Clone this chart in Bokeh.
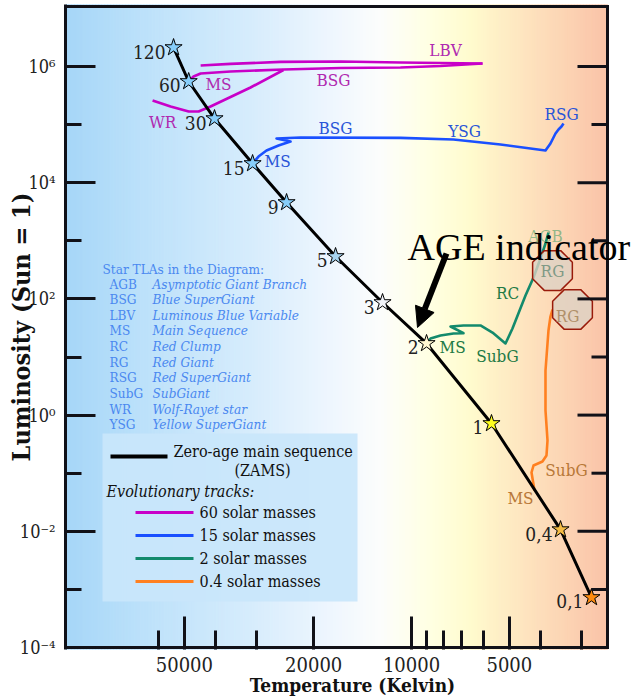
import math
import numpy as np
from bokeh.plotting import figure
from bokeh.models import (Range1d, FixedTicker, CustomJSTickFormatter,
                          Label, Arrow, NormalHead)
from bokeh.core.properties import value
from bokeh.embed import file_html
from bokeh.resources import INLINE

# ---------------- data ----------------
# ZAMS stars: mass label, temperature (K), luminosity (Sun = 1)
star_mass = ["120", "60", "30", "15", "9", "5", "3", "2", "1", "0,4", "0,1"]
star_T = [53990, 48500, 40390, 30840, 24240, 17130, 12280, 8990, 5674, 3479, 2794]
star_L = [2.12e6, 5.52e5, 1.27e5, 2.14e4, 4560, 537, 86.7, 17.1, 0.717, 0.0107, 7.26e-4]
star_color = ["#87cefa", "#87cefa", "#87cefa", "#87cefa", "#87cefa", "#a6d3f0",
              "#f2f4fa", "#fff8d2", "#ffff20", "#f4bb44", "#ff8c10"]

# 60 solar masses track (three pieces)
t60_ms_T = [48500, 46860, 44560, 36060, 24780, 16520, 10810, 8144, 6046]
t60_ms_L = [5.52e5, 6.73e5, 7.58e5, 8.2e5, 8.88e5, 9.42e5, 9.61e5, 1.02e6, 1.127e6]
t60_back_T = [6046, 8144, 10810, 16520, 25300, 36060, 44560]
t60_back_L = [1.127e6, 1.15e6, 1.17e6, 1.22e6, 1.20e6, 1.11e6, 1.04e6]
t60_wr_T = [24780, 31290, 41540, 45220, 48500, 55140, 62640]
t60_wr_L = [8.71e5, 4.35e5, 2.05e5, 1.68e5, 1.68e5, 2.05e5, 2.6e5]
t60_lab = ["MS", "BSG", "LBV", "WR"]
t60_lab_T = [39260, 17380, 7862, 58370]
t60_lab_L = [4.9e5, 5.97e5, 1.886e6, 1.087e5]

# 15 solar masses track
t15_T = [30840, 29570, 27940, 25660, 23570, 26030, 21960, 10810, 7428, 5324,
         3870, 3736, 3605, 3529, 3455, 3406]
t15_L = [2.14e4, 2.82e4, 3.58e4, 4.37e4, 5.12e4, 5.77e4, 6.0e4, 5.9e4, 5.54e4,
         4.54e4, 3.58e4, 4.73e4, 7.03e4, 8.24e4, 9.27e4, 1.045e5]
t15_lab = ["MS", "BSG", "YSG", "RSG"]
t15_lab_T = [25840, 17130, 6869, 3455]
t15_lab_L = [2.32e4, 8.57e4, 7.91e4, 1.55e5]

# 2 solar masses track
t2_T = [8990, 8740, 8144, 7428, 6918, 7586, 6918, 6135, 5634, 5138, 4890, 4459,
        4213, 4010, 3870, 3789]
t2_L = [17.1, 20.8, 23.4, 25.4, 25.7, 33.5, 34.9, 34.9, 26.4, 17.1, 30.9, 114.4,
        233, 496, 899, 1390]
t2_lab = ["MS", "SubG", "RC"]
t2_lab_T = [7477, 5439, 5066]
t2_lab_L = [14.6, 10.6, 123.9]
agb_T = [3870]
agb_L = [1233]

# 0.4 solar masses track
t04_T = [4183, 4273, 4213, 3954, 3843, 3815, 3870, 3870, 3789, 3736, 3683]
t04_L = [0.0504, 0.1028, 0.1357, 0.159, 0.2017, 0.365, 1.20, 5.86, 28.6, 49.8, 65.7]
t04_lab = ["MS", "SubG"]
t04_lab_T = [4619, 3335]
t04_lab_L = [0.0367, 0.1113]

# red giant markers
rg_T = [3683, 3196]
rg_L = [308, 65.7]
rg_text_T = [3683, 3311]
rg_text_L = [308, 49.8]

# axis ticks
x_major = [50000, 20000, 10000, 5000]
x_minor = [60000, 40000, 30000, 9000, 8000, 7000, 6000, 4000, 3000]
y_major = [1e-4, 1e-2, 1, 1e2, 1e4, 1e6]
y_minor = [1e-3, 1e-1, 10, 1e3, 1e5]

tla_abbr = ["AGB", "BSG", "LBV", "MS", "RC", "RG", "RSG", "SubG", "WR", "YSG"]
tla_name = ["Asymptotic Giant Branch", "Blue SuperGiant", "Luminous Blue Variable",
            "Main Sequence", "Red Clump", "Red Giant", "Red SuperGiant", "SubGiant",
            "Wolf-Rayet star", "Yellow SuperGiant"]
legend_names = ["60 solar masses", "15 solar masses", "2 solar masses", "0.4 solar masses"]

# ---------------- styling / layout ----------------
SERIF = "DejaVu Serif Condensed"
C60, C15, C2, C04 = "#c800c8", "#1a50ff", "#138a6c", "#ff8020"
INK = "#111118"
grad_T = [116100, 63500, 31300, 17750, 12460, 8740, 6580, 4620, 2495]
grad_rgb = [(166, 214, 248), (190, 226, 250), (214, 236, 252), (238, 246, 254),
            (252, 253, 252), (255, 255, 226), (255, 251, 206), (254, 230, 192),
            (250, 195, 168)]

W, H = 639, 700
FL, FR, FT, FB = 65, 639, 4, 649            # plotting frame (page px)
BL, BR, BT, BB = 65, 607, 6, 647            # drawn border box (page px)
X_START, X_END = 116100, 1988
Y_START, Y_END = 10 ** -4.0344, 10 ** 7.0671


def tx(px):
    a, b = math.log10(X_START), math.log10(X_END)
    return 10 ** (a + (px - FL) / (FR - FL) * (b - a))


def ly(py):
    a, b = math.log10(Y_START), math.log10(Y_END)
    return 10 ** (a + (FB - py) / (FB - FT) * (b - a))


p = figure(width=W, height=H, x_axis_type="log", y_axis_type="log",
           x_range=Range1d(X_START, X_END), y_range=Range1d(Y_START, Y_END),
           output_backend="svg", toolbar_location=None, title=None,
           min_border_left=FL, min_border_right=W - FR,
           min_border_top=FT, min_border_bottom=H - FB)
p.grid.visible = False
p.outline_line_color = None
p.background_fill_color = "white"
p.border_fill_color = "white"

# background gradient inside the border box
n = 180
edges = np.logspace(math.log10(X_START), math.log10(tx(BR)), n + 1)
mid = -np.log10(np.sqrt(edges[:-1] * edges[1:]))
xp = -np.log10(np.array(grad_T, dtype=float))
cols = []
for m in mid:
    rgb = [int(round(np.interp(m, xp, [c[k] for c in grad_rgb]))) for k in range(3)]
    cols.append("#%02x%02x%02x" % tuple(rgb))
p.quad(left=edges[:-1], right=edges[1:], bottom=Y_START, top=Y_END,
       fill_color=cols, line_color=cols, line_width=1)

# legend box
p.quad(left=[tx(102)], right=[tx(357)], bottom=[ly(601)], top=[ly(433)],
       fill_color="#c9e6fb", fill_alpha=0.92, line_color=None)

# tracks
lw = 2.6
p.line(t60_ms_T, t60_ms_L, color=C60, line_width=lw, line_join="round")
p.line(t60_back_T, t60_back_L, color=C60, line_width=lw, line_join="round")
p.line(t60_wr_T, t60_wr_L, color=C60, line_width=lw, line_join="round")
p.line(t15_T, t15_L, color=C15, line_width=lw, line_join="round")
p.line(t2_T, t2_L, color=C2, line_width=lw, line_join="round")
p.line(t04_T, t04_L, color=C04, line_width=lw, line_join="round")

# ZAMS
p.line(star_T, star_L, color="black", line_width=3)
p.scatter(star_T, star_L, marker="star", size=18, fill_color=star_color,
          line_color="black", line_width=1)

# red giant octagons
p.ngon(x=rg_T, y=rg_L, radius=21.5, radius_units="screen", n=8, angle=math.pi / 8,
       fill_color="#ddd2c4", fill_alpha=0.8, line_color="#991a0a", line_width=1.5)

# star mass labels
p.text(star_T, star_L, text=star_mass, x_offset=-8, y_offset=4, text_align="right",
       text_baseline="middle", text_font=value(SERIF), text_font_size="19px",
       text_color="#222222")


def track_text(xs, ys, txt, color, alpha=1.0):
    p.text(xs, ys, text=txt, text_align="center", text_baseline="middle",
           text_font=value(SERIF), text_font_size="17px", text_color=color,
           text_alpha=alpha)


track_text(t60_lab_T, t60_lab_L, t60_lab, "#b02ab0")
track_text(t15_lab_T, t15_lab_L, t15_lab, "#2a55d8")
track_text(t2_lab_T, t2_lab_L, t2_lab, "#237a45")
track_text(agb_T, agb_L, ["AGB"], "#3a9a60", 0.55)
track_text(t04_lab_T, t04_lab_L, t04_lab, "#b87838")
p.text(rg_text_T, rg_text_L, text=["RG", "RG"], text_align="center",
       text_baseline="middle", text_font=value(SERIF), text_font_size="17px",
       text_color=["#7f9a86", "#b0906a"])

# legend samples
p.segment(x0=[tx(110)], y0=[ly(456)], x1=[tx(167)], y1=[ly(456)],
          line_width=4, color="black")
for i, c in enumerate([C60, C15, C2, C04]):
    yy = 512 + i * 23
    p.segment(x0=[tx(135)], y0=[ly(yy)], x1=[tx(193)], y1=[ly(yy)],
              line_width=3, color=c)

# white margin right of the border, border lines and right-side ticks
p.quad(left=[tx(BR + 1.5)], right=[X_END], bottom=[Y_START], top=[Y_END],
       fill_color="white", line_color=None)
p.segment(x0=[tx(BL), tx(BL), tx(BR)], y0=[ly(BT), ly(BB), ly(BT)],
          x1=[tx(BR + 1.5), tx(BR + 1.5), tx(BR)], y1=[ly(BT), ly(BB), ly(BB)],
          line_width=3, color=INK)
p.segment(x0=[tx(BR)] * len(y_major), y0=y_major, x1=[tx(BR - 30)] * len(y_major),
          y1=y_major, line_width=3, color=INK)
p.segment(x0=[tx(BR)] * len(y_minor), y0=y_minor, x1=[tx(BR - 16)] * len(y_minor),
          y1=y_minor, line_width=3, color=INK)


def add_text(text, px, py, size, color="black", style="normal", align="left",
             baseline="middle", font=SERIF, angle=0.0, alpha=1.0):
    p.add_layout(Label(x=tx(px), y=ly(py), text=text, text_font=font,
                       text_font_size=f"{size}px", text_color=color,
                       text_font_style=style, text_align=align,
                       text_baseline=baseline, angle=angle, text_alpha=alpha))


# Star TLA block
TLA_C = "#4a88f0"
add_text("Star TLAs in the Diagram:", 102, 268, 13.5, TLA_C)
for i, (a, nme) in enumerate(zip(tla_abbr, tla_name)):
    yy = 283 + i * 15.65
    add_text(a, 109, yy, 13.5, TLA_C)
    add_text(nme, 152, yy, 13.5, TLA_C, style="italic")

# legend texts
add_text("Zero-age main sequence", 173, 451, 16, "#111111")
add_text("(ZAMS)", 262, 470, 16, "#111111", align="center")
add_text("Evolutionary tracks:", 106, 491, 16, "#111111", style="italic")
for i, nme in enumerate(legend_names):
    add_text(nme, 199, 512 + i * 23, 16, "#111111")

# AGE indicator
add_text("AGE indicator", 407, 246, 38, "black", baseline="alphabetic",
         font="Liberation Serif")
p.add_layout(Arrow(end=NormalHead(size=20, fill_color="black", line_color="black"),
                   x_start=tx(446), y_start=ly(253), x_end=tx(417), y_end=ly(327),
                   line_width=6, line_color="black"))

# axes
xa = p.xaxis[0]
xa.ticker = FixedTicker(ticks=x_major, minor_ticks=x_minor)
xa.formatter = CustomJSTickFormatter(code="return tick.toFixed(0);")
xa.axis_line_color = None
xa.major_tick_in = 33
xa.minor_tick_in = 19
xa.major_label_text_font_size = "20px"
xa.major_label_standoff = 7
xa.axis_label = "Temperature (Kelvin)"
xa.axis_label_text_font_size = "19px"
xa.axis_label_standoff = -1

ya = p.yaxis[0]
ya.ticker = FixedTicker(ticks=y_major, minor_ticks=y_minor)
ya.formatter = CustomJSTickFormatter(code="""
const sup = {"-":"\u207b","0":"\u2070","1":"\u00b9","2":"\u00b2","3":"\u00b3","4":"\u2074",
             "5":"\u2075","6":"\u2076","7":"\u2077","8":"\u2078","9":"\u2079"};
const e = Math.round(Math.log10(tick));
return "10" + String(e).split("").map(c => sup[c]).join("");
""")
ya.axis_line_width = 3
ya.axis_line_color = INK
ya.major_tick_in = 30
ya.minor_tick_in = 16
ya.major_label_text_font_size = "18px"
ya.major_label_standoff = 10
ya.axis_label = "Luminosity (Sun = 1)"
ya.axis_label_text_font_size = "25px"
ya.axis_label_standoff = -19

for ax in (xa, ya):
    ax.major_tick_out = 0
    ax.minor_tick_out = 0
    ax.major_tick_line_width = 3
    ax.minor_tick_line_width = 3
    ax.major_tick_line_color = INK
    ax.minor_tick_line_color = INK
    ax.major_label_text_font = SERIF
    ax.major_label_text_color = "#222222"
    ax.axis_label_text_font = SERIF
    ax.axis_label_text_font_style = "bold"
    ax.axis_label_text_color = "#111111"

open("out.html", "w").write(file_html(p, INLINE))
